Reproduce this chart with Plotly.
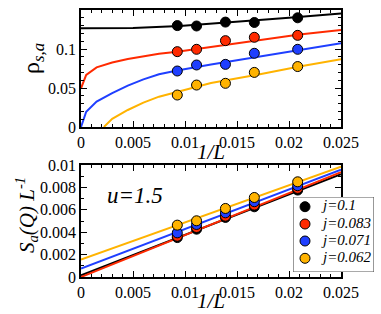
import plotly.graph_objects as go

# Data
inv_L = [1/108, 1/90, 1/72, 1/60, 1/48]
labels = ["j=0.1", "j=0.083", "j=0.071", "j=0.062"]
colors = ["#000000", "#ff2a00", "#1f3fff", "#ffb300"]

# top panel: rho_{s,a}
rho_pts = [
    [0.130, 0.1295, 0.1345, 0.134, 0.140],
    [0.0966, 0.0996, 0.1107, 0.115, 0.1175],
    [0.0718, 0.0795, 0.0803, 0.0945, 0.0996],
    [0.041, 0.0538, 0.056, 0.070, 0.0775],
]
fit_x_black = [0, 0.005, 0.0095, 0.015, 0.02, 0.025]
fit_y_black = [0.1265, 0.127, 0.1295, 0.1345, 0.140, 0.1455]
fit_x_red = [0, 0.0005, 0.0015, 0.003, 0.0045, 0.006, 0.0075, 0.00925, 0.0125, 0.0172, 0.021, 0.025]
fit_y_red = [0.0496, 0.0667, 0.0765, 0.0826, 0.0872, 0.091, 0.094, 0.0966, 0.1025, 0.1115, 0.1185, 0.1244]
fit_x_blue = [0, 0.0005, 0.0015, 0.003, 0.0045, 0.006, 0.0075, 0.00925, 0.0125, 0.0172, 0.021, 0.025]
fit_y_blue = [0.0, 0.0196, 0.0325, 0.0435, 0.053, 0.061, 0.0676, 0.0725, 0.080, 0.0902, 0.099, 0.1073]
fit_x_orange = [0.0022, 0.003, 0.0045, 0.006, 0.0075, 0.00925, 0.0125, 0.0172, 0.021, 0.025]
fit_y_orange = [0.0, 0.0105, 0.0218, 0.0312, 0.0389, 0.045, 0.0565, 0.0676, 0.0775, 0.0868]

# bottom panel: S_a(Q)/L
s_pts = [
    [0.00352, 0.00427, 0.00532, 0.00627, 0.00776],
    [0.00364, 0.00442, 0.00543, 0.00642, 0.00791],
    [0.00394, 0.00469, 0.00573, 0.00672, 0.00815],
    [0.00463, 0.00502, 0.00612, 0.0071, 0.0085],
]
line_x = [0, 0.025]
line_y = [
    [0.00015, 0.00917],
    [0.0, 0.00937],
    [0.00075, 0.00958],
    [0.00156, 0.00985],
]

FONT = "Liberation Serif, Times New Roman, Times, serif"

# layout geometry (pixels)
W, H = 381, 314
ML, MR, MT, MB = 81, 7, 10, 37
PW, PH = W - ML - MR, H - MT - MB
PLOT_R = 341


def px_x(px):
    return (px - ML) / PW


def px_y(py):
    return (H - MB - py) / PH


fig = go.Figure()

fits = [(fit_x_black, fit_y_black), (fit_x_red, fit_y_red),
        (fit_x_blue, fit_y_blue), (fit_x_orange, fit_y_orange)]
for i, (fx, fy) in enumerate(fits):
    fig.add_trace(go.Scatter(x=fx, y=fy, mode="lines", line=dict(color=colors[i], width=2),
                             showlegend=False, xaxis="x", yaxis="y", hoverinfo="skip"))
for i in range(4):
    fig.add_trace(go.Scatter(x=inv_L, y=rho_pts[i], mode="markers",
                             marker=dict(color=colors[i], size=10, line=dict(color="black", width=1)),
                             showlegend=False, xaxis="x", yaxis="y"))
for i in range(4):
    fig.add_trace(go.Scatter(x=line_x, y=line_y[i], mode="lines", line=dict(color=colors[i], width=2),
                             showlegend=False, xaxis="x2", yaxis="y2", hoverinfo="skip"))
for i in range(4):
    fig.add_trace(go.Scatter(x=inv_L, y=s_pts[i], mode="markers", name=labels[i],
                             marker=dict(color=colors[i], size=10, line=dict(color="black", width=1)),
                             showlegend=False, xaxis="x2", yaxis="y2"))

# legend box drawn on its own hidden axes (pixel units inside the box)
LBW, LBH = 81, 75
fig.add_trace(go.Scatter(x=[0, LBW, LBW, 0, 0], y=[0, 0, LBH, LBH, 0], mode="lines",
                         fill="toself", fillcolor="white", line=dict(color="#555555", width=1.2),
                         showlegend=False, xaxis="x3", yaxis="y3", hoverinfo="skip"))
row_y = [65.3, 48, 31, 13.7]
fig.add_trace(go.Scatter(x=[12] * 4, y=row_y, mode="markers",
                         marker=dict(color=colors, size=10, line=dict(color="black", width=1)),
                         showlegend=False, xaxis="x3", yaxis="y3", hoverinfo="skip"))
fig.add_trace(go.Scatter(x=[30] * 4, y=row_y, mode="text", text=labels, textposition="middle right",
                         textfont=dict(family=FONT, size=15, color="black", style="italic"),
                         showlegend=False, xaxis="x3", yaxis="y3", hoverinfo="skip", cliponaxis=False))

axis_common = dict(
    showline=True, linecolor="black", linewidth=1.5, mirror="ticks",
    ticks="inside", ticklen=6, tickwidth=1, tickcolor="black",
    showgrid=False, zeroline=False, automargin=False,
    tickfont=dict(family=FONT, size=16, color="black"),
)
minor_x = dict(dtick=0.001, ticks="inside", ticklen=3, tickcolor="black", showgrid=False)

main_dom = [0, px_x(PLOT_R)]


def ann(text, px, py, size, angle=0):
    return dict(text=text, x=px_x(px), y=px_y(py), xref="paper", yref="paper",
                xanchor="center", yanchor="middle", textangle=angle, showarrow=False,
                font=dict(family=FONT, size=size, color="black"))


fig.update_layout(
    width=W, height=H,
    margin=dict(l=ML, r=MR, t=MT, b=MB, autoexpand=False),
    paper_bgcolor="white", plot_bgcolor="rgba(0,0,0,0)",
    showlegend=False,
    xaxis=dict(domain=main_dom, anchor="y", range=[0, 0.025], dtick=0.005, minor=minor_x, **axis_common),
    yaxis=dict(domain=[px_y(127), 1], anchor="x", range=[0, 0.15],
               tickvals=[0, 0.05, 0.1], ticktext=["0", "0.05", "0.1"],
               minor=dict(dtick=0.01, ticks="inside", ticklen=3, tickcolor="black", showgrid=False),
               **axis_common),
    xaxis2=dict(domain=main_dom, anchor="y2", range=[0, 0.025], dtick=0.005, minor=minor_x, **axis_common),
    yaxis2=dict(domain=[0, px_y(165)], anchor="x2", range=[0, 0.01], dtick=0.002,
                minor=dict(dtick=0.001, ticks="inside", ticklen=3, tickcolor="black", showgrid=False),
                **axis_common),
    xaxis3=dict(domain=[px_x(293), px_x(293 + LBW)], anchor="y3", range=[0, LBW], visible=False,
                fixedrange=True),
    yaxis3=dict(domain=[px_y(197 + LBH), px_y(197)], anchor="x3", range=[0, LBH], visible=False,
                fixedrange=True),
    annotations=[
        ann("<i>1/L</i>", 211, 152, 21),
        ann("<i>1/L</i>", 211, 301, 21),
        ann("ρ<sub><i>s,a</i></sub>", 33, 59, 24, -90),
        ann("<i>S<sub>a</sub>(Q) L<sup>-1</sup></i>", 26, 215, 21, -90),
        dict(text="<i>u=1.5</i>", x=0.0052, y=0.0073, xref="x2", yref="y2",
             xanchor="center", yanchor="middle",
             showarrow=False, font=dict(family=FONT, size=23, color="black")),
    ],
)

fig.write_html("out.html", config={"displayModeBar": False},
               post_script="document.body.style.margin='0';document.body.style.padding='0';")
